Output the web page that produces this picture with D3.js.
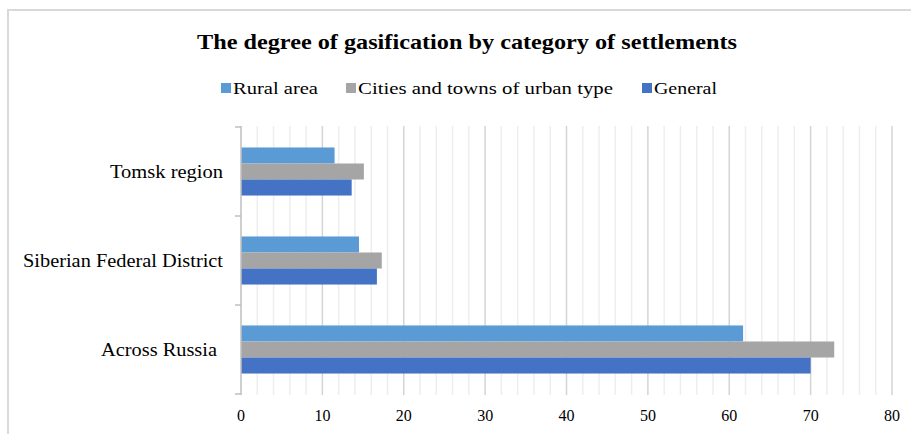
<!DOCTYPE html>
<html lang="en">
<head>
    <meta charset="UTF-8">
    <title>Gasification</title>
    <script src="https://cdn.jsdelivr.net/npm/d3@7"></script>
    <style>
        body {
            margin: 0;
            padding: 0;
            background: #fff;
        }
        text {
            font-family: "Liberation Serif", "Times New Roman", serif;
            fill: #000;
        }
    </style>
</head>
<body>
<svg width="911" height="434" id="mainsvg"></svg>
<script>
    // data
    const regions = ["Tomsk region", "Siberian Federal District", "Across Russia"];
    const seriesNames = ["Rural area", "Cities and towns of urban type", "General"];
    const ruralValues = [11.5, 14.5, 61.7];
    const urbanValues = [15.1, 17.3, 72.9];
    const generalValues = [13.6, 16.7, 70.0];
    const xTicks = [0, 10, 20, 30, 40, 50, 60, 70, 80];

    const colors = ["#5b9bd5", "#a5a5a5", "#4472c4"];
    const allValues = [ruralValues, urbanValues, generalValues];

    const svg = d3.select("#mainsvg");

    // outer chart frame (only top and left edges are visible)
    svg.append("path")
        .attr("d", "M8,434 V10 H911")
        .attr("fill", "none")
        .attr("stroke", "#d9d9d9")
        .attr("stroke-width", 2);

    // title
    svg.append("text")
        .attr("x", 197)
        .attr("y", 49)
        .attr("font-size", "22px")
        .attr("font-weight", "bold")
        .attr("textLength", 540)
        .attr("lengthAdjust", "spacingAndGlyphs")
        .text("The degree of gasification by category of settlements");

    // legend
    const legendX = [221, 346, 642];
    const legendW = [85, 255, 63];
    seriesNames.forEach((name, i) => {
        svg.append("rect")
            .attr("x", legendX[i])
            .attr("y", 83)
            .attr("width", 10)
            .attr("height", 10)
            .attr("fill", colors[i]);
        svg.append("text")
            .attr("x", legendX[i] + 12)
            .attr("y", 94)
            .attr("font-size", "17px")
            .attr("textLength", legendW[i])
            .attr("lengthAdjust", "spacingAndGlyphs")
            .text(name);
    });

    // scales
    const x = d3.scaleLinear().domain([0, 80]).range([241, 892]);
    const y = d3.scaleBand()
        .domain(regions)
        .range([127, 394])
        .paddingInner(0.46)
        .paddingOuter(0.23);
    const ySub = d3.scaleBand()
        .domain(d3.range(seriesNames.length))
        .range([0, y.bandwidth()]);

    // gridlines: minor every 2, major every 10
    const minor = d3.range(2, 81, 2).filter(v => v % 10 !== 0);
    svg.append("g").selectAll("line")
        .data(minor)
        .join("line")
        .attr("x1", d => x(d)).attr("x2", d => x(d))
        .attr("y1", 126).attr("y2", 395)
        .attr("stroke", "#eeeeee")
        .attr("stroke-width", 1.5);
    svg.append("g").selectAll("line")
        .data(xTicks.slice(1))
        .join("line")
        .attr("x1", d => x(d)).attr("x2", d => x(d))
        .attr("y1", 126).attr("y2", 395)
        .attr("stroke", "#d4d4d4")
        .attr("stroke-width", 1.5);

    // bars
    regions.forEach((r, ri) => {
        allValues.forEach((vals, si) => {
            svg.append("rect")
                .attr("x", x(0))
                .attr("y", y(r) + ySub(si))
                .attr("width", x(vals[ri]) - x(0))
                .attr("height", ySub.bandwidth())
                .attr("fill", colors[si]);
        });
    });

    // y axis line and category ticks
    const yAxis = svg.append("g");
    yAxis.append("line")
        .attr("x1", x(0)).attr("x2", x(0))
        .attr("y1", 126).attr("y2", 395)
        .attr("stroke", "#bfbfbf")
        .attr("stroke-width", 1.5);
    const bounds = [127].concat(regions.map(r => y(r) + y.bandwidth() + y.step() * y.paddingInner() / 2));
    yAxis.selectAll(".tk")
        .data(bounds)
        .join("line")
        .attr("class", "tk")
        .attr("x1", x(0) - 6).attr("x2", x(0))
        .attr("y1", d => d).attr("y2", d => d)
        .attr("stroke", "#bfbfbf")
        .attr("stroke-width", 1.5);

    // category labels
    const labelRight = [223, 223, 217];
    const labelW = [113, 200, 116];
    regions.forEach((r, i) => {
        svg.append("text")
            .attr("x", labelRight[i] - labelW[i])
            .attr("y", y(r) + y.bandwidth() / 2 + 6)
            .attr("font-size", "18px")
            .attr("textLength", labelW[i])
            .attr("lengthAdjust", "spacingAndGlyphs")
            .text(r);
    });

    // x tick labels
    svg.append("g").selectAll("text")
        .data(xTicks)
        .join("text")
        .attr("x", d => x(d))
        .attr("y", 421)
        .attr("text-anchor", "middle")
        .attr("font-size", "16px")
        .text(d => d);
</script>
</body>
</html>
